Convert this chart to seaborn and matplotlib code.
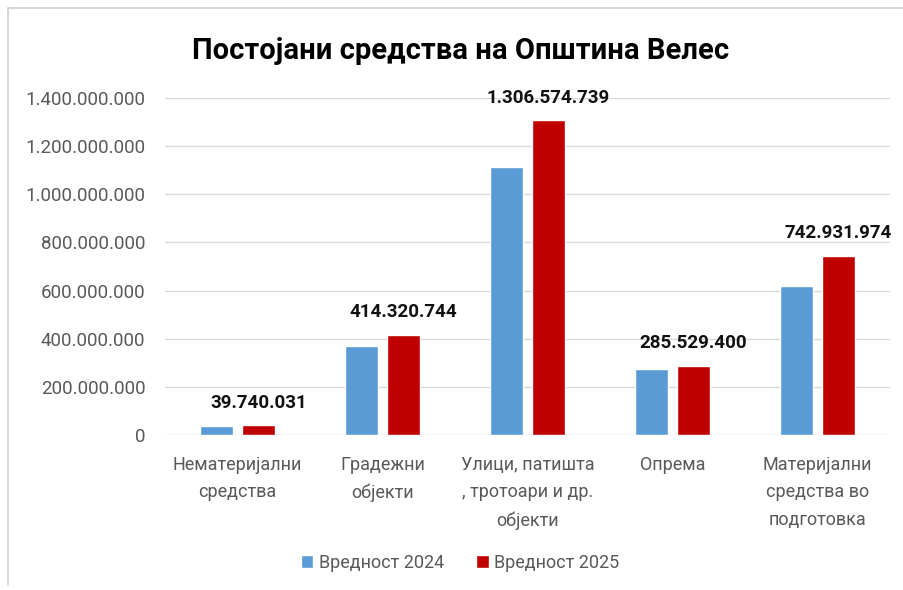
import pandas as pd
import numpy as np
import matplotlib.pyplot as plt
import seaborn as sns
from matplotlib.ticker import FuncFormatter
from matplotlib.lines import Line2D

categories = ["Нематеријални\nсредства", "Градежни\nобјекти",
              "Улици, патишта\n, тротоари и др.\nобјекти", "Опрема",
              "Материјални\nсредства во\nподготовка"]
values_2024 = [36000000, 371000000, 1115000000, 273000000, 620000000]
values_2025 = [39740031, 414320744, 1306574739, 285529400, 742931974]
series = ["Вредност 2024", "Вредност 2025"]
colors = ["#5b9bd5", "#c00000"]

df = pd.DataFrame({
    "cat": categories * 2,
    "value": values_2024 + values_2025,
    "series": [series[0]] * 5 + [series[1]] * 5,
})

sns.set_style("white")
plt.rcParams["font.family"] = ["Roboto", "DejaVu Sans"]

fig = plt.figure(figsize=(9.04, 5.90), dpi=100)
ax = fig.add_axes([0.1825, 0.2627, 0.802, 0.5712])

sns.barplot(data=df, x="cat", y="value", hue="series", palette=colors,
            width=0.58, gap=0.21, ax=ax, legend=True, saturation=1)

ax.set_ylim(0, 1400000000)
ax.set_yticks(np.arange(0, 1400000001, 200000000))
ax.yaxis.set_major_formatter(FuncFormatter(lambda v, p: f"{v:,.0f}".replace(",", ".")))
ax.grid(axis="y", color="#d9d9d9", linewidth=1)
ax.set_axisbelow(True)
for s in ax.spines.values():
    s.set_visible(False)
ax.set_xlabel("")
ax.set_ylabel("")
ax.tick_params(axis="y", labelsize=13.5, labelcolor="#595959", length=0, pad=14)
ax.tick_params(axis="x", labelsize=13, labelcolor="#595959", length=0, pad=15)
for lab in ax.get_xticklabels():
    lab.set_linespacing(1.68)
    lab.set_va("top")

# value labels only on the 2025 series
labels_2025 = [f"{v:,.0f}".replace(",", ".") for v in values_2025]
ax.bar_label(ax.containers[1], labels=labels_2025, padding=10, fontsize=13.5,
             fontweight="bold", color="#111111", clip_on=False)

fig.text(0.51, 0.913, "Постојани средства на Општина Велес", ha="center",
         va="center", fontsize=21, fontweight="bold", color="black")

handles, lbls = ax.get_legend_handles_labels()
ax.legend(handles, lbls, loc="center", bbox_to_anchor=(0.407, -0.38),
          ncol=2, frameon=False, fontsize=13, handlelength=0.7, handleheight=0.7,
          handletextpad=0.3, columnspacing=1.8, labelcolor="#595959")

# chart frame (top and left edges visible)
fig.add_artist(Line2D([0.009, 0.009], [0.008, 0.986], color="#d0d0d0", lw=1.2))
fig.add_artist(Line2D([0.009, 1.0], [0.986, 0.986], color="#d0d0d0", lw=1.2))

fig.savefig("out.png", dpi=100)
